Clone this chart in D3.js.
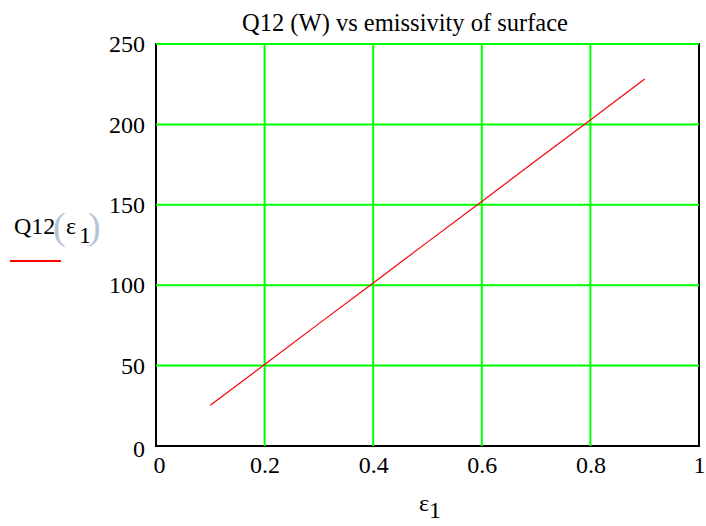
<!DOCTYPE html>
<html>
<head>
<meta charset="utf-8">
<script src="https://cdn.jsdelivr.net/npm/d3@7"></script>
<style>
  body { margin: 0; background: #fff; }
  text { font-family: "Liberation Serif", "Times New Roman", serif; fill: #000; }
</style>
</head>
<body>
<div id="main"></div>
<script>
const width = 706;
const height = 526;
const margin = { top: 44, right: 7, bottom: 80, left: 156 };

// data
const emissivity = [0.1, 0.2, 0.3, 0.4, 0.5, 0.6, 0.7, 0.8, 0.9];
const q12 = [25.4, 50.7, 76.1, 101.4, 126.8, 152.1, 177.5, 202.8, 228.2];
const xTicks = [0, 0.2, 0.4, 0.6, 0.8, 1];
const yTicks = [0, 50, 100, 150, 200, 250];
const title = 'Q12 (W) vs emissivity of surface';

const data = emissivity.map((e, i) => ({ e, q: q12[i] }));

const svg = d3.select('#main')
  .append('svg')
  .attr('width', width)
  .attr('height', height);

const innerWidth = width - margin.left - margin.right;
const innerHeight = height - margin.top - margin.bottom;

const xScale = d3.scaleLinear().domain([0, 1]).range([0, innerWidth]);
const yScale = d3.scaleLinear().domain([0, 250]).range([innerHeight, 0]);

const g = svg.append('g')
  .attr('transform', `translate(${margin.left},${margin.top})`);

// frame
g.append('rect')
  .attr('x', 0).attr('y', 0)
  .attr('width', innerWidth).attr('height', innerHeight)
  .attr('fill', 'none')
  .attr('stroke', '#000')
  .attr('stroke-width', 2);

// grid
g.append('g').selectAll('line')
  .data(xTicks.filter(d => d > 0 && d < 1))
  .join('line')
    .attr('x1', d => xScale(d)).attr('x2', d => xScale(d))
    .attr('y1', 0).attr('y2', innerHeight)
    .attr('stroke', '#00ff00')
    .attr('stroke-width', 2);

g.append('g').selectAll('line')
  .data(yTicks.filter(d => d > 0))
  .join('line')
    .attr('x1', 0).attr('x2', innerWidth)
    .attr('y1', d => yScale(d)).attr('y2', d => yScale(d))
    .attr('stroke', '#00ff00')
    .attr('stroke-width', 2);

// axes
const xAxis = d3.axisBottom(xScale).tickValues(xTicks).tickSize(0).tickPadding(10)
  .tickFormat(d => d === 0 || d === 1 ? d3.format('d')(d) : d3.format('.1f')(d));
const xAxisG = g.append('g').attr('transform', `translate(0,${innerHeight})`).call(xAxis);
xAxisG.select('.domain').remove();
xAxisG.selectAll('text').attr('font-size', 24).attr('fill', '#000')
  .attr('font-family', '"Liberation Serif", serif')
  .attr('text-anchor', d => d === 0 ? 'start' : d === 1 ? 'end' : 'middle')
  .attr('dx', d => d === 0 ? -3 : d === 1 ? 6 : 0);

const yAxis = d3.axisLeft(yScale).tickValues(yTicks).tickSize(0).tickPadding(11);
const yAxisG = g.append('g').call(yAxis);
yAxisG.select('.domain').remove();
yAxisG.selectAll('text').attr('font-size', 24).attr('fill', '#000')
  .attr('font-family', '"Liberation Serif", serif')
  .attr('dy', d => d === 0 ? '0.45em' : '0.32em');

// the series
const lineGenerator = d3.line()
  .x(d => xScale(d.e))
  .y(d => yScale(d.q));

g.append('path')
  .attr('d', lineGenerator(data))
  .attr('fill', 'none')
  .attr('stroke', '#ff0000')
  .attr('stroke-width', 1.2);

// title
svg.append('text')
  .attr('x', 405).attr('y', 31)
  .attr('text-anchor', 'middle')
  .attr('font-size', 24.5)
  .text(title);

// y label with legend swatch
const yl = svg.append('text').attr('y', 234).attr('font-size', 24);
yl.append('tspan').attr('x', 14).text('Q12');
yl.append('tspan').attr('x', 53).attr('font-size', 38).attr('dy', 5).attr('fill', '#b4c4d8').text('(');
yl.append('tspan').attr('x', 66).attr('dy', -5).text('ε');
yl.append('tspan').attr('x', 79).attr('dy', 9).text('1');
yl.append('tspan').attr('x', 88).attr('font-size', 38).attr('dy', -4).attr('fill', '#b4c4d8').text(')');

svg.append('line')
  .attr('x1', 10).attr('x2', 61)
  .attr('y1', 261).attr('y2', 261)
  .attr('stroke', '#ff0000')
  .attr('stroke-width', 2);

// x label
const xl = svg.append('text').attr('x', 419).attr('y', 511).attr('font-size', 24);
xl.append('tspan').text('ε');
xl.append('tspan').attr('dy', 7).text('1');
</script>
</body>
</html>
